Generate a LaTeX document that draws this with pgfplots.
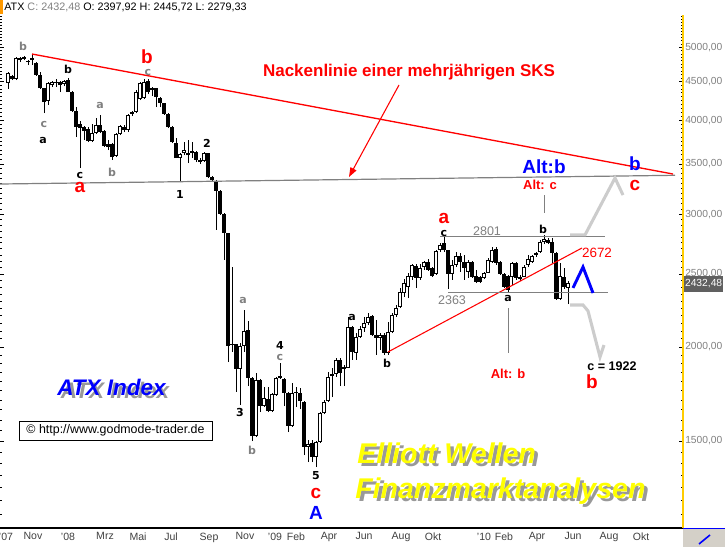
\documentclass[border=0pt]{standalone}
\usepackage{pgfplots}
\pgfplotsset{compat=1.18}
\usepackage{pgfplotstable}
\usepackage{fontspec}
\setmainfont{Liberation Sans}
\newfontfamily\dv{DejaVu Sans}
\usetikzlibrary{arrows.meta}
\definecolor{gtxt}{RGB}{128,128,128}
\definecolor{axyel}{RGB}{255,204,0}
\definecolor{lgr}{RGB}{204,204,204}
\definecolor{nred}{RGB}{255,0,0}
\definecolor{nblue}{RGB}{0,0,255}
\definecolor{yel}{RGB}{255,255,0}
\definecolor{lab}{RGB}{64,64,64}
\definecolor{boxg}{RGB}{96,96,96}
\definecolor{orng}{RGB}{255,153,0}
\definecolor{btn}{RGB}{212,208,200}
\newcommand{\fz}[1]{\fontsize{#1}{#1}\selectfont}
\newcommand{\sm}{\dv\bfseries\fz{8.25}}
\newcommand{\bg}{\bfseries\fz{14.25}}
\newcommand{\shadowtext}[5]{%
  \node[anchor=base west, inner sep=0pt, text=black, opacity=0.4, font=#3] at (#1+3.5,#2+3.5) {#5};
  \node[anchor=base west, inner sep=0pt, text=#4, font=#3] at (#1,#2) {#5};}

\pgfplotstableread{
x o h l c
8 4483 4637 4402 4623
12 4581 4595 4524 4538
16 4538 4854 4524 4839
20 4810 4854 4780 4839
24 4854 4869 4810 4825
28 4780 4810 4737 4795
32 4839 4899 4737 4810
36 4766 4780 4581 4595
40 4595 4637 4402 4415
44 4415 4415 4090 4230
48 4243 4497 4192 4483
52 4456 4511 4429 4497
56 4497 4538 4429 4483
60 4497 4511 4361 4456
64 4470 4524 4442 4511
68 4524 4552 4361 4361
72 4361 4375 4103 4115
76 4115 4166 3801 3919
80 3955 3991 3457 3907
84 3919 3931 3766 3871
88 3895 3919 3743 3755
92 3755 3955 3743 3847
96 3847 4029 3836 3943
100 3943 4066 3847 3859
104 3871 3883 3686 3697
108 3720 3766 3652 3686
112 3720 3732 3543 3575
116 3586 3847 3575 3836
120 3836 3943 3824 3931
124 3919 3943 3859 3883
128 3883 4078 3859 4066
132 4078 4115 4053 4103
136 4103 4388 4090 4361
140 4269 4497 4256 4483
144 4282 4538 4269 4497
148 4511 4538 4335 4361
152 4415 4429 4308 4388
156 4415 4415 4166 4295
160 4282 4295 4166 4217
164 4217 4217 4066 4078
168 4078 4090 3907 3919
172 3919 3931 3732 3743
176 3732 3789 3564 3564
180 3564 3619 3312 3608
184 3619 3743 3597 3652
188 3619 3766 3510 3597
192 3619 3743 3564 3641
196 3630 3641 3521 3543
200 3543 3564 3500 3521
204 3532 3630 3521 3619
208 3619 3619 3353 3363
212 3363 3373 3312 3333
216 3312 3333 2861 3223
220 3223 3233 2995 3004
224 3004 3013 2610 2834
228 2834 2834 1910 2006
232 2012 2554 1970 2018
236 2018 2018 1743 1870
240 1870 2025 1674 2006
244 2006 2240 1970 2100
248 2107 2166 1775 1819
252 1819 1825 1500 1523
256 1523 1847 1518 1808
260 1808 1814 1639 1669
264 1669 1770 1664 1711
268 1706 1770 1639 1644
272 1644 1738 1639 1732
276 1727 1825 1722 1819
280 1830 1904 1814 1819
284 1814 1819 1669 1738
288 1738 1743 1542 1571
292 1571 1792 1566 1738
296 1738 1770 1664 1743
300 1738 1765 1654 1695
304 1690 1695 1437 1473
308 1473 1504 1406 1486
312 1490 1504 1406 1428
316 1428 1500 1385 1495
320 1495 1639 1490 1634
324 1634 1700 1629 1690
328 1695 1853 1690 1825
332 1842 1875 1716 1830
336 1842 1934 1825 1922
340 1922 1934 1775 1847
344 1870 1893 1775 1881
348 1875 2192 1875 2126
352 2126 2133 1922 1970
356 1964 2087 1922 2062
360 2062 2133 2056 2113
364 2120 2192 2094 2153
368 2153 2219 2139 2192
372 2199 2206 2068 2075
376 2075 2172 1952 2056
380 2056 2087 1982 2075
384 2075 2087 1952 1964
388 1964 2159 1952 2094
392 2094 2219 2087 2206
396 2206 2274 2192 2253
400 2260 2396 2253 2366
404 2359 2462 2330 2432
408 2403 2508 2323 2485
412 2477 2578 2455 2570
416 2562 2578 2396 2470
420 2470 2578 2455 2547
424 2554 2602 2531 2594
428 2594 2618 2524 2531
432 2547 2554 2477 2485
436 2500 2690 2493 2682
440 2690 2748 2674 2732
444 2748 2801 2674 2690
448 2690 2690 2388 2500
452 2500 2610 2455 2570
456 2570 2674 2554 2642
460 2642 2666 2516 2594
464 2594 2650 2455 2547
468 2516 2610 2470 2594
472 2594 2602 2470 2477
476 2485 2531 2432 2440
480 2477 2485 2432 2440
484 2470 2516 2462 2508
488 2508 2626 2508 2610
492 2594 2715 2586 2690
496 2698 2715 2570 2586
500 2594 2602 2493 2500
504 2500 2508 2396 2403
508 2485 2493 2363 2381
512 2477 2594 2418 2586
516 2586 2594 2455 2470
520 2477 2493 2447 2462
524 2477 2570 2477 2554
528 2570 2650 2554 2618
532 2594 2650 2586 2642
536 2650 2674 2634 2666
540 2674 2774 2666 2757
544 2757 2817 2740 2783
548 2774 2791 2740 2748
552 2757 2791 2586 2666
556 2666 2674 2309 2316
560 2316 2586 2309 2485
564 2477 2547 2388 2403
568 2397.92 2445.72 2279.33 2432.48
}\candles

\begin{document}
\begin{tikzpicture}
\useasboundingbox (0pt,396pt) rectangle (543.75pt,-14.25pt);
% left-edge ticks
\begin{axis}[
  at={(0pt,0pt)}, anchor=south west,
  scale only axis, width=512.25pt, height=384.75pt,
  xmin=0, xmax=683,
  ymode=log, ymin=1149.8, ymax=5520.4,
  axis x line=none, axis y line*=left,
  y axis line style={draw=none},
  ytick={1500,2000,2500,3000,3500,4000,4500,5000},
  yticklabels={},
  minor ytick={1150,1200,...,5500},
  tick align=inside,
  major tick length=3pt, minor tick length=1.5pt,
  ytick style={black, line width=0.6pt},
  minor y tick style={black, line width=0.6pt},
]
\end{axis}
\begin{axis}[
  at={(0pt,0pt)}, anchor=south west,
  scale only axis, width=512.25pt, height=384.75pt,
  xmin=0, xmax=683,
  ymode=log, ymin=1149.8, ymax=5520.4,
  axis x line*=bottom, axis y line*=right,
  x axis line style={black, line width=1.1pt},
  y axis line style={axyel, line width=0.9pt},
  xtick={6,33,68,105,138,171,209,245,275,296,329,364,401,433,484,504,537,573,609,641},
  xticklabels={{'07},Nov,{'08},Mrz,Mai,Jul,Sep,Nov,{'09},Feb,Apr,Jun,Aug,Okt,{'10},Feb,Apr,Jun,Aug,Okt},
  xtick style={draw=none},
  xticklabel style={font=\fz{7.9}, text=lab},
  ytick={1500,2000,2500,3000,3500,4000,4500,5000},
  yticklabels={{1500,00},{2000,00},{2500,00},{3000,00},{3500,00},{4000,00},{4500,00},{5000,00}},
  yticklabel style={font=\fz{7.7}, text=gtxt, inner xsep=1.5pt},
  minor ytick={1150,1200,...,5500},
  tick align=inside,
  major tick length=3pt, minor tick length=1.5pt,
  ytick style={black, line width=0.6pt},
  minor y tick style={black, line width=0.6pt},
]
% wicks
\addplot[draw=none, mark=none, forget plot,
  error bars/.cd, y dir=plus, y explicit, error mark=none,
  error bar style={draw=black, line width=0.75pt}]
  table[x=x, y=l, y error plus expr=\thisrow{h}-\thisrow{l}] {\candles};
% down bodies
\addplot[draw=none, mark=none, forget plot,
  restrict expr to domain={\thisrow{o}-\thisrow{c}}{0.001:100000},
  error bars/.cd, y dir=plus, y explicit, error mark=none,
  error bar style={draw=black, line width=2.5pt, line cap=butt}]
  table[x=x, y=c, y error plus expr=\thisrow{o}-\thisrow{c}] {\candles};
% up bodies outline
\addplot[draw=none, mark=none, forget plot,
  restrict expr to domain={\thisrow{c}-\thisrow{o}}{0.001:100000},
  error bars/.cd, y dir=plus, y explicit, error mark=none,
  error bar style={draw=black, line width=2.5pt, line cap=butt}]
  table[x=x, y=o, y error plus expr=\thisrow{c}-\thisrow{o}] {\candles};
% up bodies interior
\addplot[draw=none, mark=none, forget plot,
  restrict expr to domain={\thisrow{c}-\thisrow{o}}{0.001:100000},
  error bars/.cd, y dir=plus, y explicit, error mark=none,
  error bar style={draw=white, line width=1.0pt, line cap=butt}]
  table[x=x, y expr=\thisrow{o}*1.00306, y error plus expr={max(\thisrow{c}/1.00306-\thisrow{o}*1.00306,0)}] {\candles};
% lines
\addplot[gtxt, line width=0.9pt] coordinates {(0,3292) (675,3381)};
\addplot[nred, line width=1.0pt] coordinates {(32,4899) (673,3394)};
\addplot[nred, line width=0.8pt] coordinates {(388,1970) (582,2707)};
\addplot[gtxt, line width=0.75pt] coordinates {(440,2801) (605,2801)};
\addplot[gtxt, line width=0.75pt] coordinates {(448,2363) (608,2363)};
\addplot[gtxt, line width=0.75pt] coordinates {(508,2253) (508,1964)};
\addplot[gtxt, line width=0.75pt] coordinates {(544,3183) (544,3013)};
\addplot[lgr, line width=2.3pt] coordinates {(570,2817) (585,2817) (615,3353) (623,3183)};
\addplot[lgr, line width=2.3pt] coordinates {(570,2274) (583,2274) (588,2233) (600,1940) (604,2012)};
\addplot[nblue, line width=2.2pt] coordinates {(573,2396) (583,2554) (593,2359)};
\end{axis}
\begin{scope}[x=0.75pt, y=-0.75pt, shift={(0pt,396pt)}]
% header
\fill[orng] (0,0) rectangle (3,14);
\node[anchor=base west, inner sep=0pt, font=\fz{8.1}] at (4,10.5) {ATX \textcolor{gtxt}{C: 2432,48} O: 2397,92 H: 2445,72 L: 2279,33};
% right price box and corner
\node[fill=boxg, text=white, anchor=west, inner xsep=0.6pt, inner ysep=0pt, minimum height=12pt, font=\fz{7.7}] at (684,283.5) {2432,48};
\fill[btn] (683,529) rectangle (725,547);
\draw[nblue, line width=1.2pt] (683,528.5) -- (725,528.5);
\draw[nblue, line width=1.2pt] (699,544) -- (710,535);
% neckline caption
\node[text=nred, font=\bfseries\fz{12.75}] at (409,72) {Nackenlinie einer mehrjährigen SKS};
\draw[nred, line width=0.8pt, -{Triangle[length=7pt, width=5pt]}] (399,85) -- (349,177);
% small grey labels
\foreach \xx/\yy/\tt in {23/46/b, 44/124/c, 100/105/a, 112/172/b, 148/72/c, 243/300/a, 252/450/b, 280/357/c}
  \node[text=gtxt, font=\sm] at (\xx,\yy) {\tt};
% small black labels
\foreach \xx/\yy/\tt in {68/69/b, 43/140/a, 80/175/c, 180/194/1, 207/143/2, 240/412/3, 280/345/4, 316/476/5, 352/317/a, 387/363/b, 444/233/c, 508/298/a, 543/229/b}
  \node[text=black, font=\sm] at (\xx,\yy) {\tt};
% big labels
\foreach \xx/\yy/\tt in {147/57/b, 80/187/a, 316/493/c, 444/218/a, 635/185/c, 592/382/b}
  \node[text=nred, font=\bg] at (\xx,\yy) {\tt};
\foreach \xx/\yy/\tt in {316/513/A, 635/164/b}
  \node[text=nblue, font=\bg] at (\xx,\yy) {\tt};
\node[text=nblue, font=\bfseries\fz{14.25}] at (544,167) {Alt:b};
\node[text=nred, font=\bfseries\fz{9.75}] at (540,185) {Alt: c};
\node[text=nred, font=\bfseries\fz{9.75}] at (508,374) {Alt: b};
\node[text=gtxt, font=\fz{9.4}] at (487,231) {2801};
\node[text=gtxt, font=\fz{9.4}] at (452,300) {2363};
\node[text=nred, font=\fz{10.1}] at (597,253) {2672};
\node[text=black, font=\bfseries\fz{9.4}] at (612,366) {c = 1922};
% copyright box
\node[draw=black, line width=0.75pt, fill=white, minimum width=144.75pt, minimum height=14.25pt, inner sep=0pt, font=\fz{9.3}] at (115.5,430.5) {© http://www.godmode-trader.de};
% big shadowed texts
\shadowtext{57}{395}{\bfseries\itshape\fz{16.9}}{nblue}{ATX Index}
\shadowtext{357}{463}{\bfseries\itshape\fz{21.4}}{yel}{Elliott Wellen}
\shadowtext{355}{498}{\bfseries\itshape\fz{21.4}}{yel}{Finanzmarktanalysen}
\end{scope}
\end{tikzpicture}
\end{document}
